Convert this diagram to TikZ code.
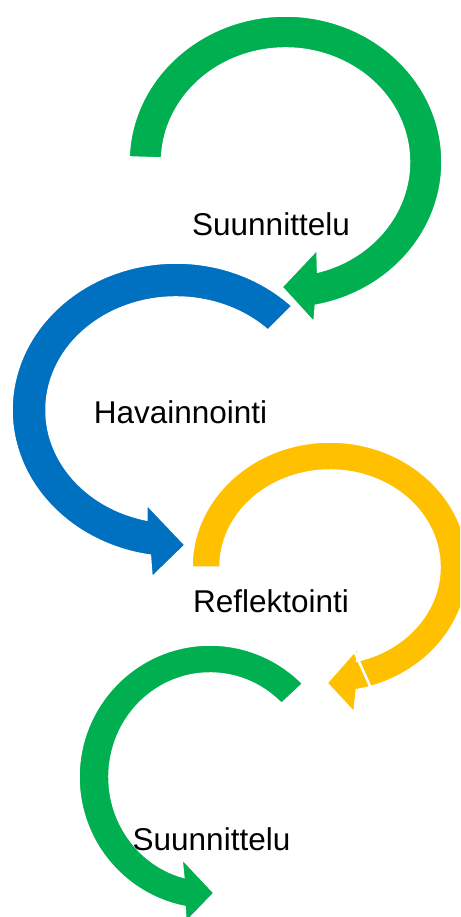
\documentclass[tikz,border=0pt]{standalone}
\usepackage{fontspec}
\setmainfont{Liberation Sans}
\definecolor{ogreen}{HTML}{00B050}
\definecolor{oblue}{HTML}{0070C0}
\definecolor{oyellow}{HTML}{FFC000}
\begin{document}
\begin{tikzpicture}[x=1pt,y=-1pt,
  arrowshape/.style={draw=white,line width=1.5pt,line join=miter},
  lbl/.style={font=\fontsize{31.5}{36}\selectfont, anchor=base, inner sep=0pt}]
\useasboundingbox (0,0) rectangle (460,917);
\clip (0,0) rectangle (460,917);
\coordinate (cB) at (176,410);
\coordinate (cG) at (285.5,162);
\coordinate (cY) at (330,567);
\coordinate (cH) at (210,777);
% blue
\fill[oblue,arrowshape] ([shift={(315:164 and 147)}]cB)
  arc[start angle=315,end angle=99,x radius=164,y radius=147]
  -- (152,577) -- (185,545) -- (147,505)
  -- ([shift={(103:130 and 113)}]cB)
  arc[start angle=103,end angle=315,x radius=130,y radius=113] -- cycle;
% top green
\fill[ogreen,arrowshape] ([shift={(182:156.5 and 146)}]cG)
  arc[start angle=182,end angle=439,x radius=156.5,y radius=146]
  -- (314,322) -- (282,287) -- (317,250)
  -- ([shift={(435:124 and 114)}]cG)
  arc[start angle=435,end angle=182,x radius=124,y radius=114] -- cycle;
% yellow
\fill[oyellow,arrowshape] ([shift={(180:138 and 125)}]cY)
  arc[start angle=180,end angle=439,x radius=138,y radius=125]
  -- (354,712) -- (327,683) -- (358,648)
  -- ([shift={(436:110 and 97)}]cY)
  arc[start angle=436,end angle=180,x radius=110,y radius=97] -- cycle;
\draw[white,line width=2.5pt] (352,646) -- (374,695);
% bottom green
\fill[ogreen,arrowshape] ([shift={(315:131 and 132)}]cH)
  arc[start angle=315,end angle=101,x radius=131,y radius=132]
  -- (186,922) -- (214,893) -- (182,859)
  -- ([shift={(105:101 and 104)}]cH)
  arc[start angle=105,end angle=315,x radius=101,y radius=104] -- cycle;
% labels
\node[lbl] (t1) at (271,235) {Suunnittelu};
\node[lbl] (t2) at (180.5,423) {Havainnointi};
\node[lbl] (t3) at (271,612) {Reflektointi};
\node[lbl] (t4) at (211.5,850) {Suunnittelu};
\end{tikzpicture}
\end{document}
